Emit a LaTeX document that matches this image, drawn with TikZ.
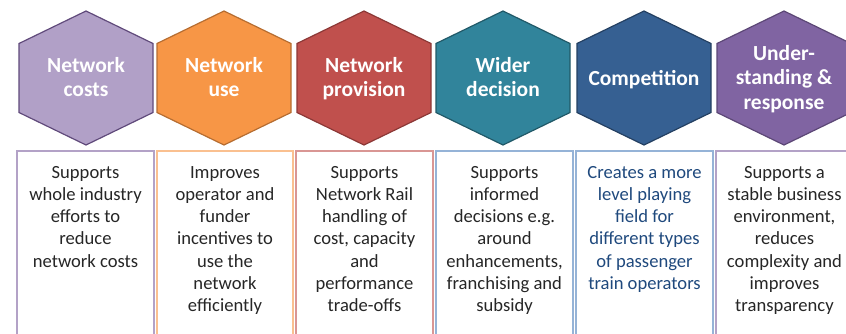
\documentclass[tikz,border=0pt]{standalone}
\usepackage{fontspec}
\setmainfont{Carlito}
\definecolor{hexA}{HTML}{B1A0C7}
\definecolor{hexAd}{HTML}{604A7B}
\definecolor{hexB}{HTML}{F79646}
\definecolor{hexBd}{HTML}{B66D31}
\definecolor{hexC}{HTML}{C0504D}
\definecolor{hexCd}{HTML}{8C3836}
\definecolor{hexD}{HTML}{31849B}
\definecolor{hexDd}{HTML}{215968}
\definecolor{hexE}{HTML}{366092}
\definecolor{hexEd}{HTML}{244062}
\definecolor{hexF}{HTML}{8064A2}
\definecolor{hexFd}{HTML}{5C4776}
\definecolor{boxA}{HTML}{B3A2C7}
\definecolor{boxB}{HTML}{FAC090}
\definecolor{boxC}{HTML}{D99694}
\definecolor{boxD}{HTML}{95B3D7}
\definecolor{boxF}{HTML}{B3A2C7}
\definecolor{txt}{HTML}{262626}
\definecolor{txtblue}{HTML}{1F497D}
\begin{document}
\begin{tikzpicture}
  [x=1pt,y=-1pt,
   hexa/.style={line width=1.2pt,line join=miter},
   title/.style={anchor=base,align=center,text=white,font={\fontsize{21.5}{24.5}\selectfont\bfseries}},
   panel/.style={line width=1.2pt},
   note/.style={anchor=base,align=center,text=txt,font={\fontsize{18.6}{22.3}\selectfont}}]
  \useasboundingbox (0,0) rectangle (846,333);
  \clip (0,0) rectangle (846,333);

  \coordinate (c1) at (86,78);
  \coordinate (c2) at (224,78);
  \coordinate (c3) at (364,78);
  \coordinate (c4) at (503,78);
  \coordinate (c5) at (644,78);
  \coordinate (c6) at (784,78);

  \draw[hexa,fill=hexA,draw=hexAd] (c1) +(0,-67) -- +(67,-34.5) -- +(67,34.5) -- +(0,67) -- +(-67,34.5) -- +(-67,-34.5) -- cycle;
  \draw[hexa,fill=hexB,draw=hexBd] (c2) +(0,-67) -- +(67,-34.5) -- +(67,34.5) -- +(0,67) -- +(-67,34.5) -- +(-67,-34.5) -- cycle;
  \draw[hexa,fill=hexC,draw=hexCd] (c3) +(0,-67) -- +(67,-34.5) -- +(67,34.5) -- +(0,67) -- +(-67,34.5) -- +(-67,-34.5) -- cycle;
  \draw[hexa,fill=hexD,draw=hexDd] (c4) +(0,-67) -- +(67,-34.5) -- +(67,34.5) -- +(0,67) -- +(-67,34.5) -- +(-67,-34.5) -- cycle;
  \draw[hexa,fill=hexE,draw=hexEd] (c5) +(0,-67) -- +(67,-34.5) -- +(67,34.5) -- +(0,67) -- +(-67,34.5) -- +(-67,-34.5) -- cycle;
  \draw[hexa,fill=hexF,draw=hexFd] (c6) +(0,-67) -- +(67,-34.5) -- +(67,34.5) -- +(0,67) -- +(-67,34.5) -- +(-67,-34.5) -- cycle;

  % base of a multi-line node sits on its last line
  \node[title] (n1) at (86,96.5) {Network\\costs};
  \node[title] (n2) at (224,96.5) {Network\\use};
  \node[title] (n3) at (364,96.5) {Network\\provision};
  \node[title] (n4) at (503,96.5) {Wider\\decision};
  \node[title] (n5) at (644,85) {Competition};
  \node[title] (n6) at (784,109) {Under-\\standing \&\\response};

  \draw[panel,draw=boxA] (17,151) rectangle (154,360);
  \draw[panel,draw=boxB] (157,151) rectangle (293,360);
  \draw[panel,draw=boxC] (296,151) rectangle (433,360);
  \draw[panel,draw=boxD] (436,151) rectangle (573,360);
  \draw[panel,draw=boxD] (576,151) rectangle (713,360);
  \draw[panel,draw=boxF] (716,151) rectangle (853,360);

  \node[note] (t1) at (85.5,267.2) {Supports\\whole industry\\efforts to\\reduce\\network costs};
  \node[note] (t2) at (225,311.8) {Improves\\operator and\\funder\\incentives to\\use the\\network\\efficiently};
  \node[note] (t3) at (364.5,311.8) {Supports\\Network Rail\\handling of\\cost, capacity\\and\\performance\\trade-offs};
  \node[note] (t4) at (504.5,311.8) {Supports\\informed\\decisions e.g.\\around\\enhancements,\\franchising and\\subsidy};
  \node[note,text=txtblue] (t5) at (644.5,289.5) {Creates a more\\level playing\\field for\\different types\\of passenger\\train operators};
  \node[note] (t6) at (784.5,311.8) {Supports a\\stable business\\environment,\\reduces\\complexity and\\improves\\transparency};
\end{tikzpicture}
\end{document}
